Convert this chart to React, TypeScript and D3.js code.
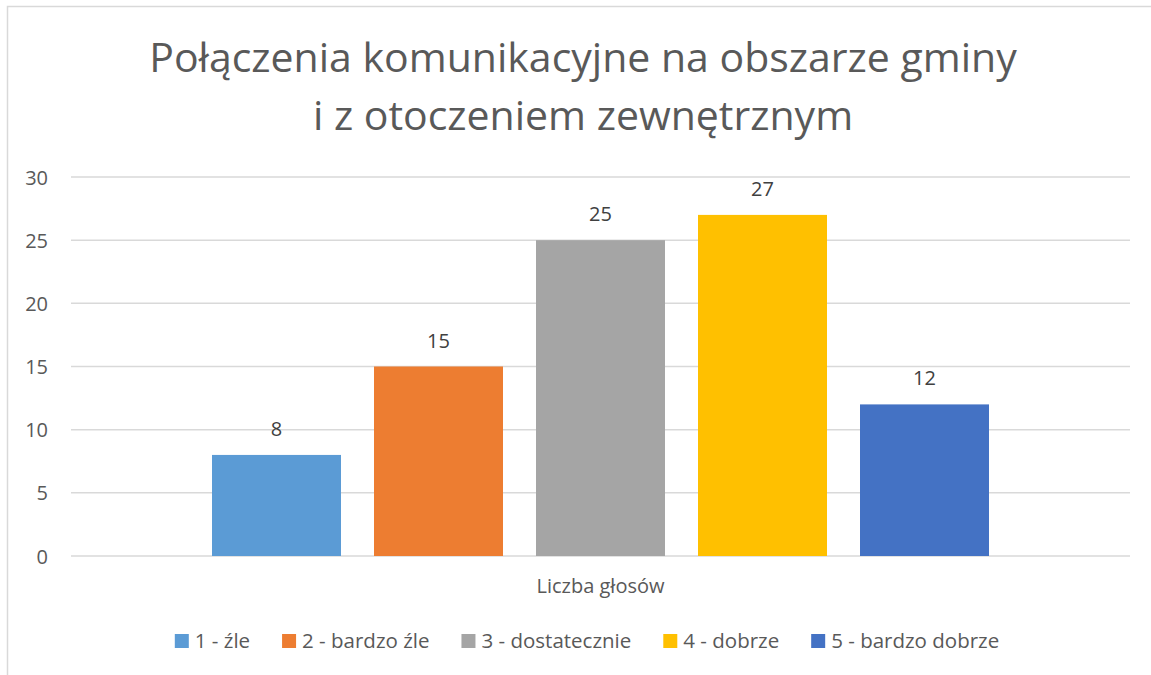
import React, { useEffect, useRef } from "react";
import * as d3 from "d3";

const titleLines = ["Połączenia komunikacyjne na obszarze gminy", "i z otoczeniem zewnętrznym"];
const categories = ["Liczba głosów"];
const seriesNames = ["1 - źle", "2 - bardzo źle", "3 - dostatecznie", "4 - dobrze", "5 - bardzo dobrze"];
const seriesValues = [8, 15, 25, 27, 12];
const seriesColors = ["#5B9BD5", "#ED7D31", "#A5A5A5", "#FFC000", "#4472C4"];
const yTicks = [0, 5, 10, 15, 20, 25, 30];

const W = 1151;
const H = 675;
const FONT = "'Open Sans', Lato, sans-serif";

export default function App() {
  const ref = useRef<SVGSVGElement | null>(null);

  useEffect(() => {
    const svg = d3.select(ref.current);
    svg.selectAll("*").remove();

    const plot = { left: 71, right: 1130, top: 177, bottom: 556 };
    const centerX = 583;

    // chart border
    svg.append("rect")
      .attr("x", 7.5).attr("y", 6.5)
      .attr("width", 1152).attr("height", 680)
      .attr("fill", "#fff").attr("stroke", "#D9D9D9").attr("stroke-width", 1.5);

    // title
    const title = svg.append("text")
      .attr("text-anchor", "middle")
      .attr("font-family", FONT)
      .attr("font-size", 41)
      .attr("fill", "#595959");
    titleLines.forEach((t, i) => {
      title.append("tspan").attr("x", centerX).attr("y", 72 + i * 58).text(t);
    });

    const y = d3.scaleLinear().domain([0, 30]).range([plot.bottom, plot.top]);
    const x0 = d3.scaleBand<string>().domain(categories).range([plot.left, plot.right]).paddingInner(0).paddingOuter(0);
    const groupW = x0.bandwidth() * (777 / 1059);
    const x1 = d3.scaleBand<string>().domain(seriesNames)
      .range([(x0.bandwidth() - groupW) / 2, (x0.bandwidth() + groupW) / 2])
      .paddingInner(33 / 162).paddingOuter(0);

    // gridlines
    svg.append("g").selectAll("line").data(yTicks).join("line")
      .attr("x1", plot.left).attr("x2", plot.right)
      .attr("y1", (d) => y(d)).attr("y2", (d) => y(d))
      .attr("stroke", "#D9D9D9").attr("stroke-width", 1.5);

    // y tick labels
    svg.append("g").selectAll("text").data(yTicks).join("text")
      .attr("x", 48).attr("y", (d) => y(d) + 7.5)
      .attr("text-anchor", "end")
      .attr("font-family", FONT).attr("font-size", 20)
      .attr("fill", "#595959")
      .text((d) => String(d));

    // bars
    const g = svg.append("g");
    categories.forEach((c) => {
      const gx = x0(c) as number;
      g.selectAll(null).data(seriesNames).enter().append("rect")
        .attr("x", (s) => gx + (x1(s) as number))
        .attr("width", x1.bandwidth())
        .attr("y", (_s, i) => y(seriesValues[i]))
        .attr("height", (_s, i) => y(0) - y(seriesValues[i]))
        .attr("fill", (_s, i) => seriesColors[i]);
      g.selectAll(null).data(seriesNames).enter().append("text")
        .attr("x", (s) => gx + (x1(s) as number) + x1.bandwidth() / 2)
        .attr("y", (_s, i) => y(seriesValues[i]) - 19)
        .attr("text-anchor", "middle")
        .attr("font-family", FONT).attr("font-size", 20)
        .attr("fill", "#404040")
        .text((_s, i) => String(seriesValues[i]));
      svg.append("text")
        .attr("x", gx + x0.bandwidth() / 2).attr("y", 593)
        .attr("text-anchor", "middle")
        .attr("font-family", FONT).attr("font-size", 20)
        .attr("fill", "#595959")
        .text(c);
    });

    // legend
    const leg = svg.append("g");
    const items = seriesNames.map((s, i) => {
      const it = leg.append("g");
      it.append("rect").attr("x", 0).attr("y", -14).attr("width", 14).attr("height", 14).attr("fill", seriesColors[i]);
      const t = it.append("text").attr("x", 20).attr("y", 0)
        .attr("font-family", FONT).attr("font-size", 20.5)
        .attr("fill", "#595959").text(s);
      const w = 20 + (t.node() as SVGTextElement).getComputedTextLength();
      return { it, w };
    });
    const gap = 32;
    const total = d3.sum(items, (d) => d.w) + gap * (items.length - 1);
    let cx = centerX + 4 - total / 2;
    items.forEach(({ it, w }) => {
      it.attr("transform", `translate(${cx},648)`);
      cx += w + gap;
    });
  }, []);

  return (
    <svg ref={ref} width={W} height={H} style={{ position: "absolute", left: 0, top: 0, display: "block" }} />
  );
}
